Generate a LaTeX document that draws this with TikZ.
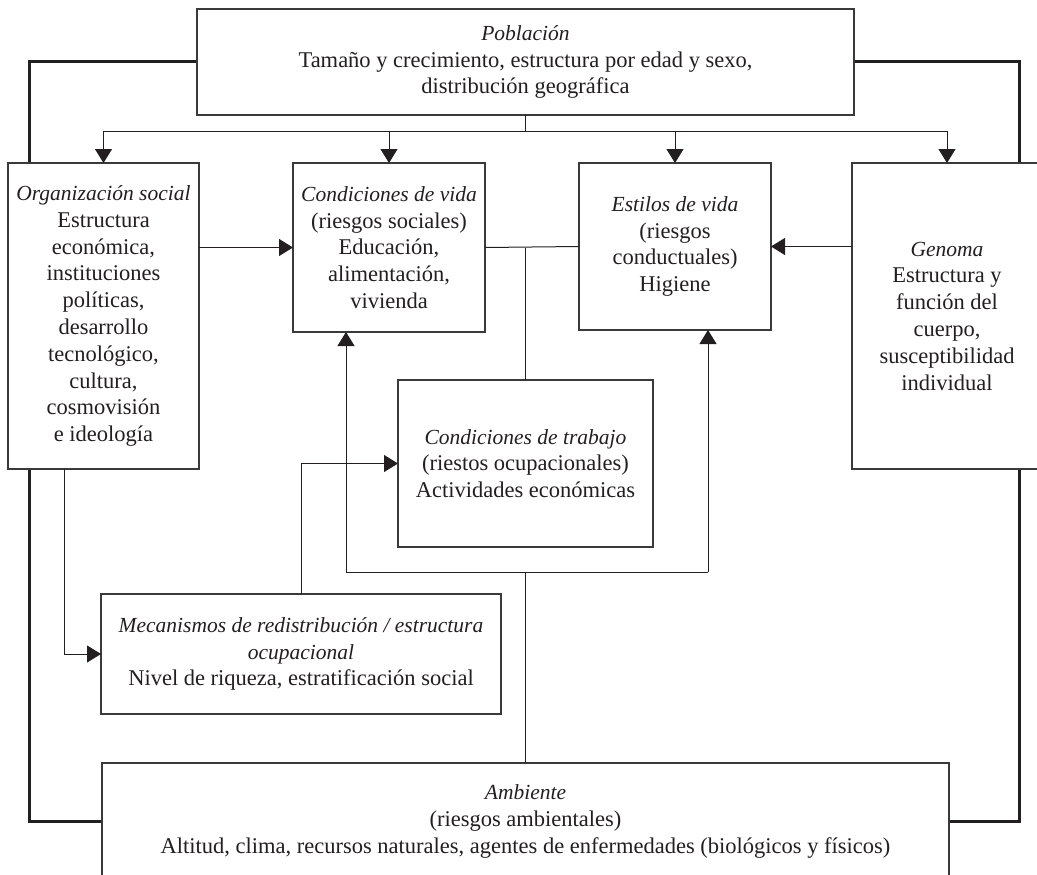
\documentclass[tikz,border=0pt]{standalone}
\usepackage{fontspec}
\setmainfont{Liberation Serif}
\usetikzlibrary{arrows.meta,backgrounds}
\definecolor{ink}{HTML}{231F20}
\definecolor{edge}{HTML}{3A3A3A}
\newcommand{\ttl}[1]{{\fontsize{21.5}{26.8}\selectfont\itshape #1}}
\begin{document}
\begin{tikzpicture}[x=1pt,y=-1pt,
  txt/.style={font=\fontsize{22.5}{26.8}\selectfont, text=ink},
  box/.style={txt, draw=edge, line width=1.1pt, fill=white, inner sep=0pt, outer sep=0pt, align=center},
  conn/.style={draw=ink, line width=1pt},
  arr/.style={conn, -{Triangle[length=14pt,width=17pt]}},
  frameline/.style={draw=ink, line width=3pt}]
\useasboundingbox (0,0) rectangle (1037,875);
\clip (0,0) rectangle (1037,875);

\node[box, minimum width=657pt, minimum height=106pt] (pob) at (525.5,62)
  {\ttl{Población}\\Tamaño y crecimiento, estructura por edad y sexo,\\distribución geográfica};
\node[box, minimum width=191pt, minimum height=306pt] (org) at (103.5,316)
  {\ttl{Organización social}\\Estructura\\económica,\\instituciones\\políticas,\\desarrollo\\tecnológico,\\cultura,\\cosmovisión\\e ideología};
\node[box, minimum width=192pt, minimum height=169pt] (cv) at (389,247.5)
  {\ttl{Condiciones de vida}\\(riesgos sociales)\\Educación,\\alimentación,\\vivienda};
\node[box, minimum width=192pt, minimum height=167pt] (ev) at (675,246.5)
  {\ttl{Estilos de vida}\\(riesgos\\conductuales)\\Higiene};
\node[box, minimum width=190pt, minimum height=306pt] (gen) at (947,316)
  {\ttl{Genoma}\\Estructura y\\función del\\cuerpo,\\susceptibilidad\\individual};
\node[box, minimum width=255pt, minimum height=167pt] (trab) at (525.5,463.5)
  {\ttl{Condiciones de trabajo}\\(riestos ocupacionales)\\Actividades económicas};
\node[box, minimum width=400pt, minimum height=120pt] (mec) at (301,654)
  {\ttl{Mecanismos de redistribución / estructura}\\\ttl{ocupacional}\\Nivel de riqueza, estratificación social};
\node[box, minimum width=847pt, minimum height=117pt] (amb) at (525.5,821.5)
  {\ttl{Ambiente}\\(riesgos ambientales)\\Altitud, clima, recursos naturales, agentes de enfermedades (biológicos y físicos)};

% coordinates for free ends
\coordinate (bus) at (525.5,131);
\coordinate (tl) at (29,62);
\coordinate (tr) at (1019,62);
\coordinate (lowL) at (346,572);
\coordinate (lowR) at (708,572);
\coordinate (om) at (64,469);

\begin{scope}[on background layer]
  \draw[frameline] (pob.west) -- (tl) |- (amb.west);
  \draw[frameline] (pob.east) -- (tr) |- (amb.east);
\end{scope}

% distribution from Poblacion
\draw[conn] (pob.south) -- (bus);
\draw[arr] (bus) -| (org.north);
\draw[arr] (bus) -| (cv.north);
\draw[arr] (bus) -| (ev.north);
\draw[arr] (bus) -| (gen.north);

% side arrows
\draw[arr] (org.east |- cv.west) -- (cv.west);
\draw[arr] (gen.west |- ev.east) -- (ev.east);

% link between vida boxes and trabajo
\draw[conn] (cv.east) -- (ev.west);
\draw[conn] (trab.north) -- (trab.north |- cv.east);

% from Ambiente upwards
\draw[conn] (amb.north) -- (amb.north |- lowL);
\draw[conn] (lowL) -- (lowR);
\draw[arr] (lowL) -- (lowL |- cv.south);
\draw[arr] (lowR) -- (lowR |- ev.south);

% mecanismos -> trabajo
\draw[arr] (mec.north) |- (trab.west);
% organizacion -> mecanismos
\draw[arr] (om) |- (mec.west);
\end{tikzpicture}
\end{document}
